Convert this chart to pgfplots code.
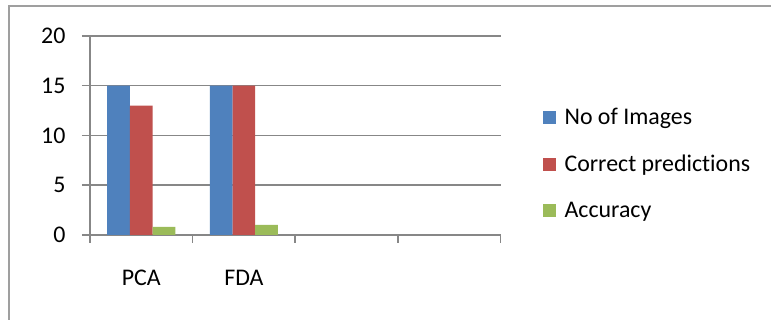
\documentclass[border=0pt]{standalone}
\usepackage{pgfplots}
\pgfplotsset{compat=1.18}
\usepackage{fontspec}
\setmainfont{Carlito}[Ligatures={NoCommon}]
\definecolor{xblue}{HTML}{4F81BD}
\definecolor{xred}{HTML}{C0504D}
\definecolor{xgreen}{HTML}{9BBB59}
\definecolor{xgrid}{HTML}{878787}
\begin{document}
\begin{tikzpicture}[x=1bp,y=1bp]
\fill[white] (0,0) rectangle (772,320);
\draw[xgrid!80, line width=1.5bp] (9,0) -- (9,314) -- (772,314);
\begin{axis}[
  at={(90bp,85bp)}, anchor=south west,
  scale only axis, width=411bp, height=199bp,
  ymin=0, ymax=20, ytick={0,5,10,15,20},
  xmin=-0.5, xmax=3.5,
  xtick={-0.5,0.5,1.5,2.5,3.5}, xticklabels={},
  extra x ticks={0,1}, extra x tick labels={PCA,FDA},
  extra x tick style={major tick length=0pt, tick label style={yshift=-32bp}},
  axis x line=bottom, axis y line=left,
  axis line style={xgrid, line width=1.5bp, -},
  tick style={xgrid, line width=1.5bp},
  major tick length=8bp,
  tick align=outside,
  ymajorgrids, major grid style={xgrid, line width=1.5bp},
  ybar=0pt, bar width=22.7bp,
  enlarge x limits=false,
  /pgf/number format/assume math mode=true,
  tick label style={font=\fontsize{24}{29}\selectfont, text=black},
  yticklabel style={xshift=-13bp},
  legend style={at={(rel axis cs:1.102,0.357)}, anchor=west, draw=none, fill=none,
    font=\fontsize{24}{29}\selectfont, row sep=25bp, inner sep=0pt},
  legend cell align=left,
  legend image code/.code={\fill[#1] (0bp,-6.5bp) rectangle (13bp,6.5bp); \path (20bp,0bp);},
]
\addplot[fill=xblue, draw=none] coordinates {(0,15) (1,15)};
\addplot[fill=xred, draw=none] coordinates {(0,13) (1,15)};
\addplot[fill=xgreen, draw=none] coordinates {(0,0.8) (1,1)};
\legend{No of Images, Correct predictions, Accuracy}
\end{axis}
\end{tikzpicture}
\end{document}
